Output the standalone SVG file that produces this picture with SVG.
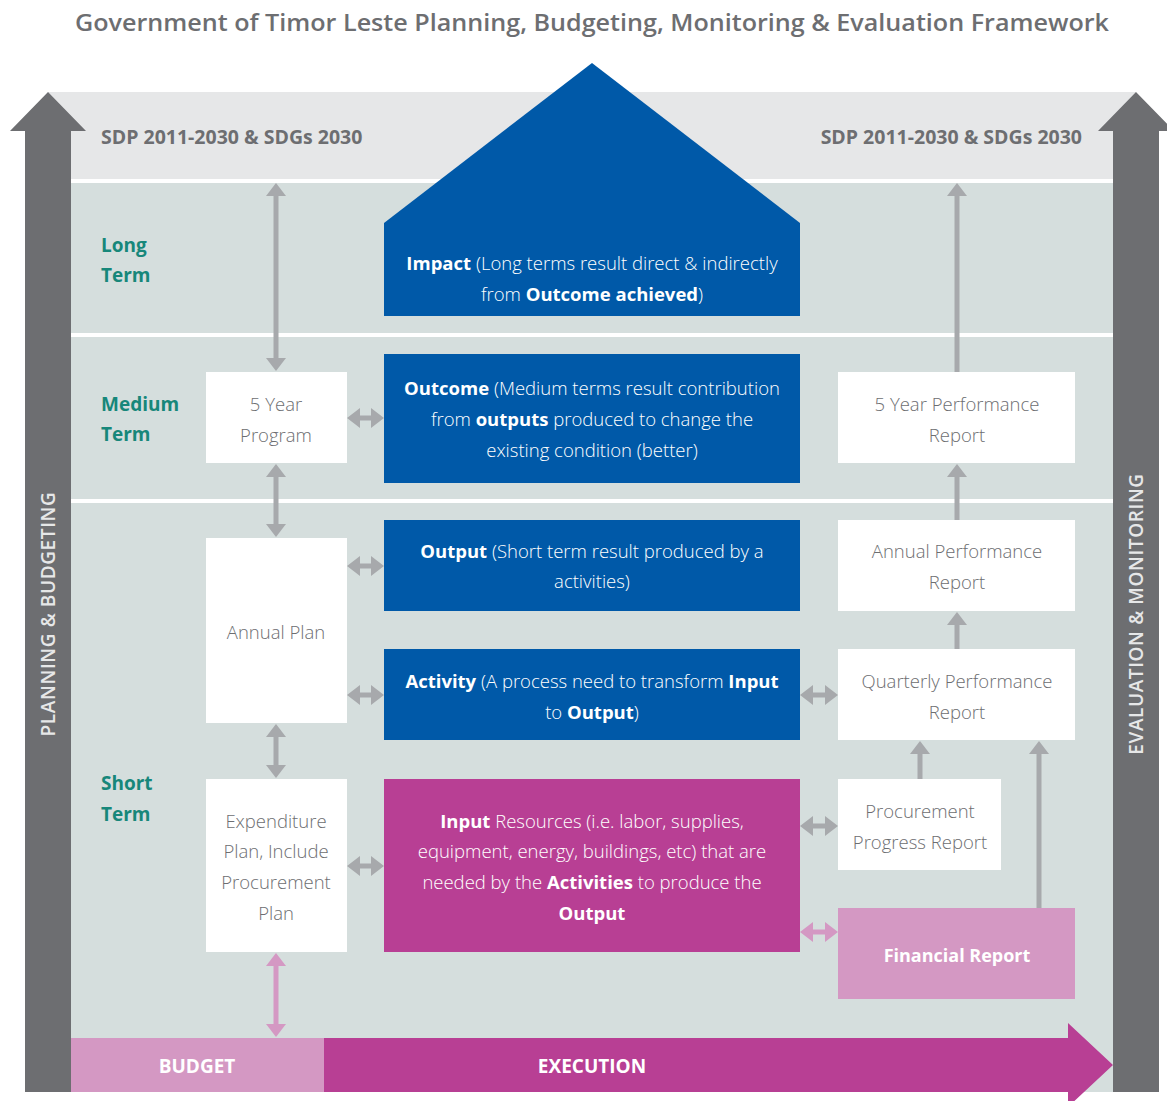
<svg xmlns="http://www.w3.org/2000/svg" width="1167" height="1101" viewBox="0 0 1167 1101">
<style>
text{font-family:"Open Sans","Noto Sans","Liberation Sans",sans-serif}
.title{font-size:24px;font-weight:600;fill:#6D6E71}
.sdp{font-size:19.5px;font-weight:700;fill:#6D6E71}
.term{font-size:19px;font-weight:700;fill:#17877A}
.wt{font-size:18.5px;font-weight:300;fill:#FFFFFF;text-anchor:middle}
.gt{font-size:18.5px;font-weight:300;fill:#6D6E71;text-anchor:middle}
.b{font-weight:700}
.side{font-size:19px;font-weight:600;fill:#E6E7E8;text-anchor:middle;letter-spacing:0.6px}
.bar{font-size:19px;font-weight:700;fill:#FFFFFF;text-anchor:middle}
.blue{fill:#0059A8}
.mag{fill:#B83F94}
.pink{fill:#D498C3}
.white{fill:#FFFFFF}
.con{stroke:#A7A9AC;stroke-width:5;fill:none}
.conp{stroke:#D498C3;stroke-width:5;fill:none}
</style>
<defs>
<marker id="ag" markerUnits="userSpaceOnUse" markerWidth="14" markerHeight="20" refX="1" refY="10" orient="auto-start-reverse" viewBox="0 0 13 20"><path d="M0,0 L13,10 L0,20z" fill="#A7A9AC"/></marker>
<marker id="ap" markerUnits="userSpaceOnUse" markerWidth="14" markerHeight="20" refX="1" refY="10" orient="auto-start-reverse" viewBox="0 0 13 20"><path d="M0,0 L13,10 L0,20z" fill="#D498C3"/></marker>
</defs>
<rect width="1167" height="1101" fill="#FFFFFF"/>
<text class="title" x="592" y="31" text-anchor="middle" textLength="1034" lengthAdjust="spacingAndGlyphs">Government of Timor Leste Planning, Budgeting, Monitoring &amp; Evaluation Framework</text>

<g id="background">
<rect x="48" y="92" width="1088" height="88" fill="#E6E7E8"/>
<rect x="71" y="183" width="1042" height="909" fill="#D5DEDD"/>
<rect x="71" y="179" width="1042" height="4" fill="#FFFFFF"/>
<rect x="71" y="333" width="1042" height="4" fill="#FFFFFF"/>
<rect x="71" y="499" width="1042" height="4" fill="#FFFFFF"/>
</g>

<g id="planning-arrow">
<polygon points="48,92 86,131 71,131 71,1092 25,1092 25,131 10,131" fill="#6D6E71"/>
<text class="side" transform="translate(55,614) rotate(-90)">PLANNING &amp; BUDGETING</text>
</g>
<g id="evaluation-arrow">
<polygon points="1136,92 1174,131 1159,131 1159,1092 1113,1092 1113,131 1098,131" fill="#6D6E71"/>
<text class="side" transform="translate(1143,614) rotate(-90)">EVALUATION &amp; MONITORING</text>
</g>

<g id="labels">
<text class="sdp" x="101" y="144">SDP 2011-2030 &amp; SDGs 2030</text>
<text class="sdp" x="1082" y="144" text-anchor="end">SDP 2011-2030 &amp; SDGs 2030</text>
<text class="term" x="101" y="252">Long</text>
<text class="term" x="101" y="282">Term</text>
<text class="term" x="101" y="411">Medium</text>
<text class="term" x="101" y="441">Term</text>
<text class="term" x="101" y="790">Short</text>
<text class="term" x="101" y="821">Term</text>
</g>

<g id="connectors">
<path class="con" d="M276,195 V359" marker-start="url(#ag)" marker-end="url(#ag)"/>
<path class="con" d="M276,476 V525" marker-start="url(#ag)" marker-end="url(#ag)"/>
<path class="con" d="M276,736 V766" marker-start="url(#ag)" marker-end="url(#ag)"/>
<path class="conp" d="M276,965 V1025" marker-start="url(#ap)" marker-end="url(#ap)"/>
<path class="con" d="M359,418 H372" marker-start="url(#ag)" marker-end="url(#ag)"/>
<path class="con" d="M359,566 H372" marker-start="url(#ag)" marker-end="url(#ag)"/>
<path class="con" d="M359,695 H372" marker-start="url(#ag)" marker-end="url(#ag)"/>
<path class="con" d="M359,866 H372" marker-start="url(#ag)" marker-end="url(#ag)"/>
<path class="con" d="M812,695 H826" marker-start="url(#ag)" marker-end="url(#ag)"/>
<path class="con" d="M812,826 H826" marker-start="url(#ag)" marker-end="url(#ag)"/>
<path class="conp" d="M812,932 H826" marker-start="url(#ap)" marker-end="url(#ap)"/>
<path class="con" d="M957,372 V195" marker-end="url(#ag)"/>
<path class="con" d="M957,520 V476" marker-end="url(#ag)"/>
<path class="con" d="M957,649 V624" marker-end="url(#ag)"/>
<path class="con" d="M920,779 V753" marker-end="url(#ag)"/>
<path class="con" d="M1039,908 V753" marker-end="url(#ag)"/>
</g>

<g id="impact">
<polygon class="blue" points="592,63 800,223 800,316 384,316 384,223"/>
<text class="wt" x="592" y="270"><tspan class="b">Impact</tspan> (Long terms result direct &amp; indirectly</text>
<text class="wt" x="592" y="301">from <tspan class="b">Outcome achieved</tspan>)</text>
</g>
<g id="outcome">
<rect class="blue" x="384" y="354" width="416" height="129"/>
<text class="wt" x="592" y="395"><tspan class="b">Outcome</tspan> (Medium terms result contribution</text>
<text class="wt" x="592" y="426">from <tspan class="b">outputs</tspan> produced to change the</text>
<text class="wt" x="592" y="457">existing condition (better)</text>
</g>
<g id="output">
<rect class="blue" x="384" y="520" width="416" height="91"/>
<text class="wt" x="592" y="558"><tspan class="b">Output</tspan> (Short term result produced by a</text>
<text class="wt" x="592" y="588">activities)</text>
</g>
<g id="activity">
<rect class="blue" x="384" y="649" width="416" height="91"/>
<text class="wt" x="592" y="688"><tspan class="b">Activity</tspan> (A process need to transform <tspan class="b">Input</tspan></text>
<text class="wt" x="592" y="719">to <tspan class="b">Output</tspan>)</text>
</g>
<g id="input">
<rect class="mag" x="384" y="779" width="416" height="173"/>
<text class="wt" x="592" y="828"><tspan class="b">Input</tspan> Resources (i.e. labor, supplies,</text>
<text class="wt" x="592" y="858">equipment, energy, buildings, etc) that are</text>
<text class="wt" x="592" y="889">needed by the <tspan class="b">Activities</tspan> to produce the</text>
<text class="wt" x="592" y="920"><tspan class="b">Output</tspan></text>
</g>

<g id="five-year-program">
<rect class="white" x="206" y="372" width="141" height="91"/>
<text class="gt" x="276" y="411">5 Year</text>
<text class="gt" x="276" y="442">Program</text>
</g>
<g id="annual-plan">
<rect class="white" x="206" y="538" width="141" height="185"/>
<text class="gt" x="276" y="639">Annual Plan</text>
</g>
<g id="expenditure-plan">
<rect class="white" x="206" y="779" width="141" height="173"/>
<text class="gt" x="276" y="828">Expenditure</text>
<text class="gt" x="276" y="858">Plan, Include</text>
<text class="gt" x="276" y="889">Procurement</text>
<text class="gt" x="276" y="920">Plan</text>
</g>

<g id="five-year-performance">
<rect class="white" x="838" y="372" width="237" height="91"/>
<text class="gt" x="957" y="411">5 Year Performance</text>
<text class="gt" x="957" y="442">Report</text>
</g>
<g id="annual-performance">
<rect class="white" x="838" y="520" width="237" height="91"/>
<text class="gt" x="957" y="558">Annual Performance</text>
<text class="gt" x="957" y="589">Report</text>
</g>
<g id="quarterly-performance">
<rect class="white" x="838" y="649" width="237" height="91"/>
<text class="gt" x="957" y="688">Quarterly Performance</text>
<text class="gt" x="957" y="719">Report</text>
</g>
<g id="procurement-progress">
<rect class="white" x="838" y="779" width="163" height="91"/>
<text class="gt" x="920" y="818">Procurement</text>
<text class="gt" x="920" y="849">Progress Report</text>
</g>
<g id="financial-report">
<rect class="pink" x="838" y="908" width="237" height="91"/>
<text class="bar" x="957" y="962" style="font-size:18px">Financial Report</text>
</g>

<g id="budget">
<rect class="pink" x="71" y="1038" width="253" height="54"/>
<text class="bar" x="197" y="1073">BUDGET</text>
</g>
<g id="execution">
<polygon class="mag" points="324,1038 1068,1038 1068,1023 1113,1065 1068,1107 1068,1092 324,1092"/>
<text class="bar" x="592" y="1073">EXECUTION</text>
</g>
</svg>
